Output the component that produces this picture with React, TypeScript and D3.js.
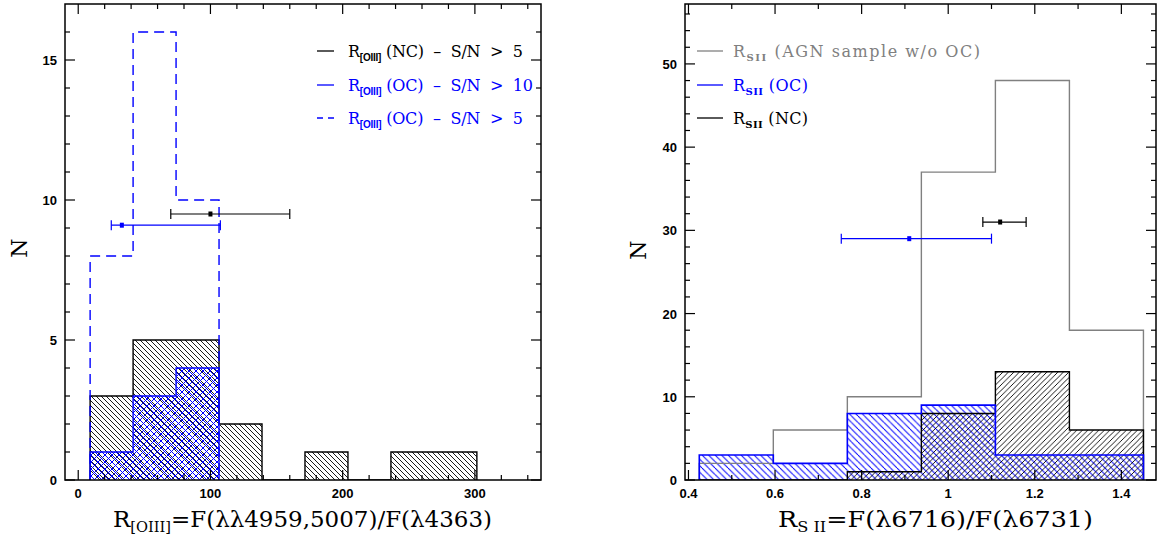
import React from "react";
import * as d3 from "d3";

// ---------- Data ----------
// Left panel: R[OIII]
const oiiiBinEdges = [9, 41.5, 74, 106.5, 139, 171.5, 204, 236.5, 269, 301.5];
const oiiiNC = [3, 5, 5, 2, 0, 1, 0, 1, 1];
const oiiiOC10 = [1, 3, 4];
const oiiiOC5 = [8, 16, 10];
const oiiiXTicks = [0, 100, 200, 300];
const oiiiYTicks = [0, 5, 10, 15];
const oiiiErrNC = { x: 100, y: 9.5, lo: 70, hi: 160 };
const oiiiErrOC = { x: 33, y: 9.1, lo: 25, hi: 107.5 };

// Right panel: R[SII]
const siiBinEdges = [0.425, 0.596, 0.767, 0.938, 1.109, 1.28, 1.451];
const siiAGN = [2, 6, 10, 37, 48, 18];
const siiOC = [3, 2, 8, 9, 3, 3];
const siiNC = [0, 0, 1, 8, 13, 6];
const siiXTicks = [0.4, 0.6, 0.8, 1, 1.2, 1.4];
const siiXTickLabels = ["0.4", "0.6", "0.8", "1", "1.2", "1.4"];
const siiYTicks = [0, 10, 20, 30, 40, 50];
const siiErrOC = { x: 0.91, y: 29, lo: 0.753, hi: 1.1 };
const siiErrNC = { x: 1.12, y: 31, lo: 1.08, hi: 1.18 };

const BLUE = "#0000ff";
const GRAY = "#808080";
const TICKFONT = "'Liberation Sans', Arial, sans-serif";
const SERIF = "'DejaVu Serif', serif";

// ---------- Layout ----------
const L = { x0: 65, x1: 541, y0: 4, y1: 480 };
const R = { x0: 685, x1: 1156, y0: 4, y1: 480 };

const xL = d3.scaleLinear().domain([-10, 350]).range([L.x0, L.x1]);
const yL = d3.scaleLinear().domain([0, 17]).range([L.y1, L.y0]);
const xR = d3.scaleLinear().domain([0.392, 1.48]).range([R.x0, R.x1]);
const yR = d3.scaleLinear().domain([0, 57.2]).range([R.y1, R.y0]);

function stepPath(edges: number[], counts: number[], x: any, y: any) {
  const pts: [number, number][] = [[x(edges[0]), y(0)]];
  counts.forEach((c, i) => {
    pts.push([x(edges[i]), y(c)]);
    pts.push([x(edges[i + 1]), y(c)]);
  });
  pts.push([x(edges[counts.length]), y(0)]);
  return d3.line()(pts) as string;
}

function HatchRects({ edges, counts, x, y, fill }: any) {
  return (
    <g>
      {counts.map((c: number, i: number) =>
        c > 0 ? (
          <rect
            key={i}
            x={x(edges[i])}
            y={y(c)}
            width={x(edges[i + 1]) - x(edges[i])}
            height={y(0) - y(c)}
            fill={fill}
          />
        ) : null
      )}
    </g>
  );
}

function ErrBar({ e, x, y, color }: any) {
  const cy = y(e.y);
  return (
    <g stroke={color} strokeWidth={1.2}>
      <line x1={x(e.lo)} x2={x(e.hi)} y1={cy} y2={cy} />
      <line x1={x(e.lo)} x2={x(e.lo)} y1={cy - 5} y2={cy + 5} />
      <line x1={x(e.hi)} x2={x(e.hi)} y1={cy - 5} y2={cy + 5} />
      <rect x={x(e.x) - 2} y={cy - 2.5} width={4} height={5} fill={color} stroke="none" />
    </g>
  );
}

function Ticks({ box, x, y, xMajor, xMinor, yMajor, yMinor }: any) {
  const lines: any[] = [];
  const M = 10, m = 5;
  xMajor.forEach((v: number) => {
    const px = x(v);
    lines.push([px, box.y1, px, box.y1 - M], [px, box.y0, px, box.y0 + M]);
  });
  xMinor.forEach((v: number) => {
    const px = x(v);
    lines.push([px, box.y1, px, box.y1 - m], [px, box.y0, px, box.y0 + m]);
  });
  yMajor.forEach((v: number) => {
    const py = y(v);
    lines.push([box.x0, py, box.x0 + M, py], [box.x1, py, box.x1 - M, py]);
  });
  yMinor.forEach((v: number) => {
    const py = y(v);
    lines.push([box.x0, py, box.x0 + m, py], [box.x1, py, box.x1 - m, py]);
  });
  return (
    <g stroke="#000" strokeWidth={1.2}>
      {lines.map((l, i) => (
        <line key={i} x1={l[0]} y1={l[1]} x2={l[2]} y2={l[3]} />
      ))}
    </g>
  );
}

// diagonal hatch tile: "\" when dir = -1, "/" when dir = 1 (s = horizontal spacing)
function Pattern({ id, s, dir, color, w = 0.9 }: any) {
  const x1 = dir < 0 ? 0 : s;
  const x2 = dir < 0 ? s : 0;
  return (
    <pattern id={id} patternUnits="userSpaceOnUse" width={s} height={s}>
      <line x1={x1 - s} y1={0} x2={x2 - s} y2={s} stroke={color} strokeWidth={w} />
      <line x1={x1} y1={0} x2={x2} y2={s} stroke={color} strokeWidth={w} />
      <line x1={x1 + s} y1={0} x2={x2 + s} y2={s} stroke={color} strokeWidth={w} />
    </pattern>
  );
}

export default function App() {
  const lxMinor = d3.range(0, 350, 20).filter((v) => v % 100 !== 0);
  const lyMinor = d3.range(0, 17, 1).filter((v) => v % 5 !== 0);
  const rxMinor = d3.range(0.5, 1.45, 0.2);
  const ryMinor = d3.range(2, 57, 2).filter((v) => v % 10 !== 0);

  const legendRows = [51, 85, 118];

  return (
    <svg
      width={1157}
      height={545}
      style={{ position: "absolute", left: 0, top: 0, background: "#fff" }}
      xmlns="http://www.w3.org/2000/svg"
    >
      <defs>
        <Pattern id="lBlack" s={5} dir={-1} color="#000" />
        <Pattern id="lBlueA" s={7} dir={-1} color={BLUE} w={1} />
        <Pattern id="lBlueB" s={7} dir={1} color={BLUE} w={1} />
        <Pattern id="rBlue" s={6.5} dir={-1} color={BLUE} w={1} />
        <Pattern id="rBlack" s={5.5} dir={1} color="#000" />
        <clipPath id="clipL">
          <rect x={L.x0} y={L.y0} width={L.x1 - L.x0} height={L.y1 - L.y0} />
        </clipPath>
        <clipPath id="clipR">
          <rect x={R.x0} y={R.y0} width={R.x1 - R.x0} height={R.y1 - R.y0} />
        </clipPath>
      </defs>

      {/* ---------------- Left panel ---------------- */}
      <g clipPath="url(#clipL)">
        <HatchRects edges={oiiiBinEdges} counts={oiiiNC} x={xL} y={yL} fill="url(#lBlack)" />
        <HatchRects edges={oiiiBinEdges} counts={oiiiOC10} x={xL} y={yL} fill="url(#lBlueA)" />
        <HatchRects edges={oiiiBinEdges} counts={oiiiOC10} x={xL} y={yL} fill="url(#lBlueB)" />
        <path d={stepPath(oiiiBinEdges, oiiiNC, xL, yL)} fill="none" stroke="#000" strokeWidth={1.4} />
        <path d={stepPath(oiiiBinEdges, oiiiOC10, xL, yL)} fill="none" stroke={BLUE} strokeWidth={1.4} />
        <path
          d={stepPath(oiiiBinEdges, oiiiOC5, xL, yL)}
          fill="none"
          stroke={BLUE}
          strokeWidth={1.4}
          strokeDasharray="10,6"
        />
        <ErrBar e={oiiiErrNC} x={xL} y={yL} color="#000" />
        <ErrBar e={oiiiErrOC} x={xL} y={yL} color={BLUE} />
      </g>
      <Ticks box={L} x={xL} y={yL} xMajor={oiiiXTicks} xMinor={lxMinor} yMajor={oiiiYTicks} yMinor={lyMinor} />
      <rect x={L.x0} y={L.y0} width={L.x1 - L.x0} height={L.y1 - L.y0} fill="none" stroke="#000" strokeWidth={1.5} />
      <g fontFamily={TICKFONT} fontSize={13} fontWeight="bold">
        {oiiiXTicks.map((v) => (
          <text key={v} x={xL(v)} y={498} textAnchor="middle">
            {v}
          </text>
        ))}
        {oiiiYTicks.map((v) => (
          <text key={v} x={57} y={yL(v) + 5} textAnchor="end">
            {v}
          </text>
        ))}
      </g>
      <text
        x={19}
        y={248}
        fontFamily={SERIF}
        fontSize={22}
        textAnchor="middle"
        dominantBaseline="central"
        transform="rotate(-90 19 248)"
      >
        N
      </text>
      <text x={113} y={527} fontFamily={SERIF} fontSize={22} textLength={379} lengthAdjust="spacingAndGlyphs">
        R
        <tspan fontSize={14} dy={5}>
          [OIII]
        </tspan>
        <tspan dy={-5}>=F(λλ4959,5007)/F(λ4363)</tspan>
      </text>

      {/* Left legend */}
      {[
        { label: " (NC)  –  S/N  >  5", color: "#000", dash: undefined, len: 175 },
        { label: " (OC)  –  S/N  >  10", color: BLUE, dash: undefined, len: 185 },
        { label: " (OC)  –  S/N  >  5", color: BLUE, dash: "6,5", len: 175 },
      ].map((r, i) => (
        <g key={i}>
          <line
            x1={317}
            x2={334}
            y1={legendRows[i]}
            y2={legendRows[i]}
            stroke={r.color}
            strokeWidth={1.3}
            strokeDasharray={r.dash}
          />
          <text
            x={348}
            y={legendRows[i] + 6}
            fontFamily={SERIF}
            fontSize={16}
            fill={r.color}
            style={{ whiteSpace: "pre" }}
            textLength={r.len}
            lengthAdjust="spacing"
          >
            R
            <tspan fontFamily={TICKFONT} fontWeight="bold" fontSize={10} dy={4}>
              [OIII]
            </tspan>
            <tspan dy={-4}>{r.label}</tspan>
          </text>
        </g>
      ))}

      {/* ---------------- Right panel ---------------- */}
      <g clipPath="url(#clipR)">
        <HatchRects edges={siiBinEdges} counts={siiOC} x={xR} y={yR} fill="url(#rBlue)" />
        <HatchRects edges={siiBinEdges} counts={siiNC} x={xR} y={yR} fill="url(#rBlack)" />
        <path d={stepPath(siiBinEdges, siiAGN, xR, yR)} fill="none" stroke={GRAY} strokeWidth={1.4} />
        <path d={stepPath(siiBinEdges, siiNC, xR, yR)} fill="none" stroke="#000" strokeWidth={1.4} />
        <path d={stepPath(siiBinEdges, siiOC, xR, yR)} fill="none" stroke={BLUE} strokeWidth={1.6} />
        <ErrBar e={siiErrOC} x={xR} y={yR} color={BLUE} />
        <ErrBar e={siiErrNC} x={xR} y={yR} color="#000" />
      </g>
      <Ticks box={R} x={xR} y={yR} xMajor={siiXTicks} xMinor={rxMinor} yMajor={siiYTicks} yMinor={ryMinor} />
      <rect x={R.x0} y={R.y0} width={R.x1 - R.x0} height={R.y1 - R.y0} fill="none" stroke="#000" strokeWidth={1.5} />
      <g fontFamily={TICKFONT} fontSize={13} fontWeight="bold">
        {siiXTicks.map((v, i) => (
          <text key={v} x={xR(v)} y={498} textAnchor="middle">
            {siiXTickLabels[i]}
          </text>
        ))}
        {siiYTicks.map((v) => (
          <text key={v} x={677} y={yR(v) + 5} textAnchor="end">
            {v}
          </text>
        ))}
      </g>
      <text
        x={638}
        y={250}
        fontFamily={SERIF}
        fontSize={22}
        textAnchor="middle"
        dominantBaseline="central"
        transform="rotate(-90 638 250)"
      >
        N
      </text>
      <text x={778} y={527} fontFamily={SERIF} fontSize={22} textLength={315} lengthAdjust="spacingAndGlyphs">
        R
        <tspan fontSize={14} dy={5}>
          S II
        </tspan>
        <tspan dy={-5}>=F(λ6716)/F(λ6731)</tspan>
      </text>

      {/* Right legend */}
      {[
        { label: " (AGN sample w/o OC)", color: GRAY, len: 247 },
        { label: " (OC)", color: BLUE, len: 75 },
        { label: " (NC)", color: "#000", len: 75 },
      ].map((r, i) => (
        <g key={i}>
          <line x1={697} x2={723} y1={legendRows[i]} y2={legendRows[i]} stroke={r.color} strokeWidth={1.3} />
          <text
            x={733}
            y={legendRows[i] + 6}
            fontFamily={SERIF}
            fontSize={16}
            fill={r.color}
            style={{ whiteSpace: "pre" }}
            textLength={r.len}
            lengthAdjust="spacing"
          >
            R
            <tspan fontSize={10} fontWeight="bold" dy={4}>
              SII
            </tspan>
            <tspan dy={-4}>{r.label}</tspan>
          </text>
        </g>
      ))}
    </svg>
  );
}
